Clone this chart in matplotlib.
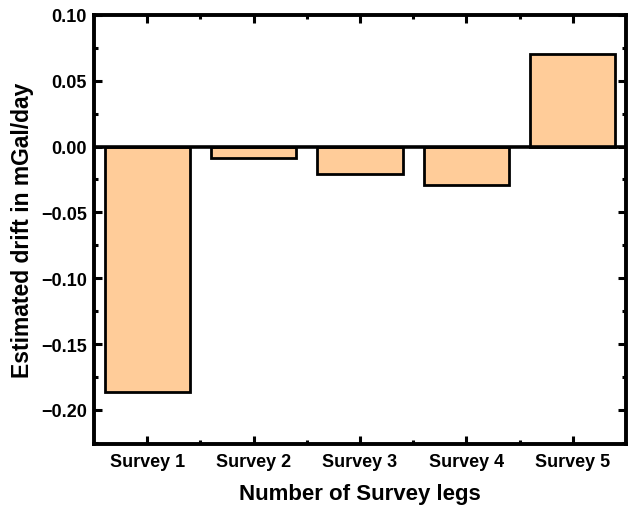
import numpy as np
import matplotlib.pyplot as plt
from matplotlib.ticker import MultipleLocator, FixedLocator

surveys = ["Survey 1", "Survey 2", "Survey 3", "Survey 4", "Survey 5"]
drift = [-0.186, -0.009, -0.021, -0.029, 0.070]

plt.rcParams["font.family"] = ["Liberation Sans", "DejaVu Sans"]
plt.rcParams["font.weight"] = "bold"

fig = plt.figure(figsize=(6.31, 5.10), dpi=100)
ax = fig.add_axes([0.149, 0.127, 0.843, 0.842])

x = np.arange(len(surveys))
ax.bar(x, drift, width=0.8, color="#FFCC99", edgecolor="black", linewidth=2.0, zorder=2)
ax.axhline(0, color="black", linewidth=2.6, zorder=3)

ax.set_xlim(-0.5, len(surveys) - 0.5)
ax.set_ylim(-0.226, 0.10)
ax.set_xticks(x)
ax.set_xticklabels(surveys)
ax.xaxis.set_minor_locator(FixedLocator(x[:-1] + 0.5))
ax.yaxis.set_major_locator(MultipleLocator(0.05))
ax.yaxis.set_minor_locator(MultipleLocator(0.025))
ax.yaxis.set_major_formatter(plt.FuncFormatter(lambda v, p: f"{v:.2f}".replace("-", "\u2212")))

for s in ax.spines.values():
    s.set_linewidth(2.8)
ax.tick_params(which="both", direction="in", top=True, right=True, width=2.2)
ax.tick_params(which="major", length=6, labelsize=13, pad=6)
ax.tick_params(axis="y", which="major", pad=5)
ax.tick_params(which="minor", length=3)
for lbl in ax.get_xticklabels() + ax.get_yticklabels():
    lbl.set_fontweight("bold")

ax.set_xlabel("Number of Survey legs", fontsize=16, fontweight="bold", labelpad=10)
ax.set_ylabel("Estimated drift in mGal/day", fontsize=16.5, fontweight="bold", labelpad=5)

fig.savefig("out.png", dpi=100)
